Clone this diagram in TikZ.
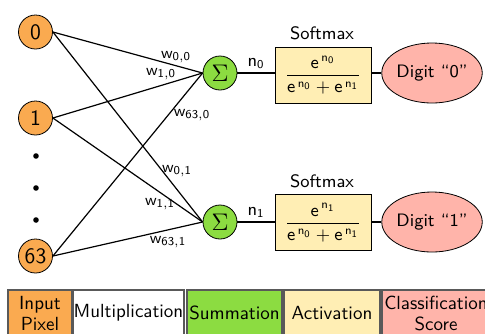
\documentclass[tikz,border=0pt]{standalone}
\usetikzlibrary{shapes.geometric}
\definecolor{inorange}{RGB}{250,170,80}
\definecolor{sumgreen}{RGB}{140,220,65}
\definecolor{actyellow}{RGB}{255,238,180}
\definecolor{clspink}{RGB}{255,180,170}
\begin{document}
\begin{tikzpicture}[x=0.5pt,y=-0.5pt,
  font=\sffamily\fontsize{9}{10}\selectfont,
  inp/.style={circle,draw,fill=inorange,minimum size=17pt,inner sep=0pt,font=\sffamily\fontsize{11}{12}\selectfont},
  sumn/.style={circle,draw,fill=sumgreen,minimum size=17pt,inner sep=0pt,font=\fontsize{13}{14}\selectfont},
  smbox/.style={rectangle,draw,fill=actyellow,minimum width=48pt,minimum height=28pt,inner sep=1pt},
  outn/.style={ellipse,draw,fill=clspink,minimum width=38.5pt,minimum height=30pt,inner sep=0pt},
  wlab/.style={font=\fontsize{8}{9}\selectfont,inner sep=0pt},
  leg/.style={rectangle,draw=black!65,line width=0.6pt,minimum height=23pt,inner sep=0pt,align=center,font=\sffamily\fontsize{9.5}{10.5}\selectfont},
  conn/.style={line width=0.6pt}]
\clip (0,0) rectangle (485,333);
\useasboundingbox (0,0) rectangle (485,333);

% input nodes
\node[inp] (i0) at (35.5,32) {0};
\node[inp] (i1) at (35.5,118) {1};
\node[inp] (i63) at (35.5,256) {63};
\fill (36,156) circle (1.4pt);
\fill (36,188) circle (1.4pt);
\fill (36,220) circle (1.4pt);

% summation nodes
\node[sumn] (s0) at (220,73) {$\Sigma$};
\node[sumn] (s1) at (220,222) {$\Sigma$};

% weighted connections
\foreach \i in {i0,i1,i63}{
  \draw[conn] (\i.east) -- (s0.west);
  \draw[conn] (\i.east) -- (s1.west);
}
\node[wlab] (w00) at (176,57) {$\mathsf{w}_{\mathsf{0,0}}$};
\node[wlab] (w10) at (161,74) {$\mathsf{w}_{\mathsf{1,0}}$};
\node[wlab] (w630) at (192,115) {$\mathsf{w}_{\mathsf{63,0}}$};
\node[wlab] (w01) at (177,171) {$\mathsf{w}_{\mathsf{0,1}}$};
\node[wlab] (w11) at (160,204) {$\mathsf{w}_{\mathsf{1,1}}$};
\node[wlab] (w631) at (168,242) {$\mathsf{w}_{\mathsf{63,1}}$};

% softmax boxes
\node[smbox] (a0) at (323,75) {$\displaystyle\frac{\mathsf{e}^{\,\mathsf{n}_{\mathsf{0}}}}{\mathsf{e}^{\,\mathsf{n}_{\mathsf{0}}}+\mathsf{e}^{\,\mathsf{n}_{\mathsf{1}}}}$};
\node[smbox] (a1) at (323,222.5) {$\displaystyle\frac{\mathsf{e}^{\,\mathsf{n}_{\mathsf{1}}}}{\mathsf{e}^{\,\mathsf{n}_{\mathsf{0}}}+\mathsf{e}^{\,\mathsf{n}_{\mathsf{1}}}}$};
\node[inner sep=0pt] (t0) at (322,33) {Softmax};
\node[inner sep=0pt] (t1) at (322,181) {Softmax};

% outputs
\node[outn] (o0) at (432,73) {Digit ``0''};
\node[outn] (o1) at (432,222) {Digit ``1''};

\draw[conn] (s0) -- node[above,inner sep=2pt] {$\mathsf{n}_{\mathsf{0}}$} (a0.west|-s0);
\draw[conn] (s1) -- node[above,inner sep=2pt] {$\mathsf{n}_{\mathsf{1}}$} (a1.west|-s1);
\draw[conn] (a0.east|-o0) -- (o0);
\draw[conn] (a1.east|-o1) -- (o1);

% legend
\node[leg,fill=inorange,minimum width=32pt] (l1) at (40,313) {Input\\Pixel};
\node[leg,fill=white,minimum width=55.5pt] (l2) at (128.5,313) {Multiplication};
\node[leg,fill=sumgreen,minimum width=47.5pt] (l3) at (234.5,313) {Summation};
\node[leg,fill=actyellow,minimum width=48pt] (l4) at (332,313) {Activation};
\node[leg,fill=clspink,minimum width=54pt] (l5) at (436,313) {Classification\\Score};
\end{tikzpicture}
\end{document}
